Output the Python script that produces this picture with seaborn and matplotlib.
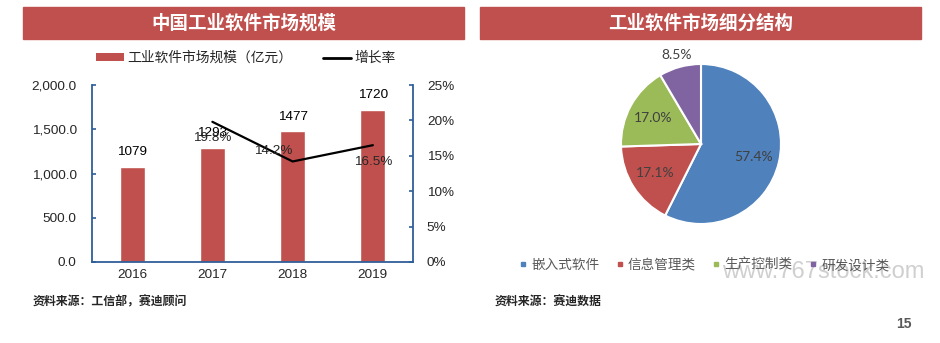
import matplotlib
matplotlib.use("Agg")
import matplotlib.pyplot as plt
from matplotlib.patches import Rectangle, Patch
from matplotlib.lines import Line2D
from matplotlib.ticker import FuncFormatter
import numpy as np
import pandas as pd
import seaborn as sns

# ---------------- data ----------------
years = ["2016", "2017", "2018", "2019"]
market_size = [1079, 1293, 1477, 1720]
growth_years = ["2017", "2018", "2019"]
growth_rate = [19.8, 14.2, 16.5]

segments = ["嵌入式软件", "信息管理类", "生产控制类", "研发设计类"]
segment_share = [57.4, 17.1, 17.0, 8.5]

left_title = "中国工业软件市场规模"
right_title = "工业软件市场细分结构"
bar_legend = "工业软件市场规模（亿元）"
line_legend = "增长率"
left_source = "资料来源：工信部，赛迪顾问"
right_source = "资料来源：赛迪数据"

# ---------------- style ----------------
sns.set_style("white")
CJK = ["Noto Sans CJK SC", "DejaVu Sans"]
NUM = ["Liberation Sans", "Noto Sans CJK SC"]
plt.rcParams["font.family"] = CJK

RED = "#C0504D"
BLUE = "#4F81BD"
GREEN = "#9BBB59"
PURPLE = "#8064A2"
SPINE = "#2F5E9A"
W, H = 940, 343

fig = plt.figure(figsize=(9.4, 3.43), dpi=100)

def px(x, y):
    return x / W, 1 - y / H

# headers
for (x0, x1, title) in [(23, 464, left_title), (480, 921, right_title)]:
    fig.patches.append(Rectangle(px(x0, 39), (x1 - x0) / W, 32 / H,
                                 transform=fig.transFigure, color=RED, zorder=0))
    fig.text(((x0 + x1) / 2) / W, 1 - 23 / H, title, ha="center", va="center",
             color="white", fontsize=13.3, fontweight="bold", family=CJK)

# ---------------- left: bar + line ----------------
ax = fig.add_axes([92 / W, 1 - 262 / H, (413 - 92) / W, (262 - 85) / H])
df = pd.DataFrame({"year": years, "size": market_size})
sns.barplot(data=df, x="year", y="size", color=RED, width=0.31, saturation=1,
            ax=ax, zorder=2)
ax.set_xlim(-0.5, len(years) - 0.5)
ax.set_ylim(0, 2000)
ax.set_yticks(np.arange(0, 2001, 500))
ax.yaxis.set_major_formatter(FuncFormatter(lambda v, p: f"{v:,.1f}"))
ax.set_xlabel("")
ax.set_ylabel("")
for c in ax.containers:
    ax.bar_label(c, labels=[str(v) for v in market_size], padding=6,
                 fontsize=9.7, family=NUM, color="black")

ax2 = ax.twinx()
gx = [years.index(y) for y in growth_years]
gdf = pd.DataFrame({"x": gx, "g": growth_rate})
sns.lineplot(data=gdf, x="x", y="g", color="black", linewidth=1.6, ax=ax2)
ax2.set_ylim(0, 25)
ax2.set_yticks(np.arange(0, 26, 5))
ax2.yaxis.set_major_formatter(FuncFormatter(lambda v, p: f"{v:.0f}%"))
ax2.set_ylabel("")
ax2.set_xlabel("")
offsets = [(0, -12), (-14, 7.5), (0, -12)]
for xi, g, off in zip(gx, growth_rate, offsets):
    ax2.annotate(f"{g:.1f}%", (xi, g), xytext=off, textcoords="offset points",
                 ha="center", va="center", fontsize=9.7, family=NUM)

for a in (ax, ax2):
    for s in a.spines.values():
        s.set_visible(False)
ax.spines["left"].set_visible(True)
ax.spines["bottom"].set_visible(True)
ax2.spines["right"].set_visible(True)
for s in (ax.spines["left"], ax.spines["bottom"], ax2.spines["right"]):
    s.set_color(SPINE)
    s.set_linewidth(1.3)
ax.tick_params(axis="y", direction="in", length=3, color=SPINE, width=1.2,
               pad=11, labelsize=9.7)
ax.tick_params(axis="x", length=0, pad=5, labelsize=9.7)
ax2.tick_params(axis="y", direction="in", length=3, color=SPINE, width=1.2,
                pad=10, labelsize=9.7)
for lab in ax.get_xticklabels() + ax.get_yticklabels() + ax2.get_yticklabels():
    lab.set_family(NUM)
ax.grid(False)
ax2.grid(False)

handles = [Patch(facecolor=RED, edgecolor="none"),
           Line2D([], [], color="black", linewidth=2)]
fig.legend(handles, [bar_legend, line_legend], ncol=2, loc="center",
           bbox_to_anchor=(246 / W, 1 - 58 / H), frameon=False,
           handlelength=2.0, handleheight=0.5, handletextpad=0.3,
           columnspacing=2.2, prop={"family": CJK, "size": 9.9})

# ---------------- right: pie ----------------
pax = fig.add_axes([621 / W, 1 - 224 / H, 160 / W, 160 / H])
pal = [BLUE, RED, GREEN, PURPLE]
wedges, texts, autotexts = pax.pie(
    segment_share, colors=pal, startangle=90, counterclock=False,
    autopct=lambda p: f"{p:.1f}%", pctdistance=0.68,
    wedgeprops=dict(edgecolor="white", linewidth=1.5),
    textprops=dict(fontsize=10, color="#404040", family=["Lato", "DejaVu Sans"]))
# move the small slice label outside
w = wedges[-1]
ang = np.deg2rad((w.theta1 + w.theta2) / 2)
autotexts[-1].set_position((1.15 * np.cos(ang), 1.15 * np.sin(ang)))
pax.set_xlim(-1, 1)
pax.set_ylim(-1, 1)
pax.set_aspect("equal")
pax.axis("off")

lh = [Line2D([], [], marker="s", linestyle="none", markersize=3.5,
             markerfacecolor=c, markeredgecolor=c) for c in pal]
leg = fig.legend(lh, segments, ncol=4, loc="center",
                 bbox_to_anchor=(704 / W, 1 - 265 / H), frameon=False,
                 handlelength=0.6, handletextpad=0.3, columnspacing=1.2,
                 prop={"family": CJK, "size": 9.8})
for t in leg.get_texts():
    t.set_color("#595959")

# ---------------- footer ----------------
fig.text(33 / W, 1 - 302 / H, left_source, ha="left", va="center",
         fontsize=8.6, fontweight="bold", family=CJK)
fig.text(495 / W, 1 - 302 / H, right_source, ha="left", va="center",
         fontsize=8.6, fontweight="bold", family=CJK)
fig.text(904 / W, 1 - 324 / H, "15", ha="center", va="center",
         fontsize=10, fontweight="bold", color="#595959", family=NUM)
fig.text(722 / W, 1 - 272 / H, "www.767stock.com", ha="left", va="center",
         fontsize=17, color="#C4C4C4", alpha=0.8, family=["Liberation Sans"],
         zorder=0)

fig.savefig("out.png", dpi=100)
